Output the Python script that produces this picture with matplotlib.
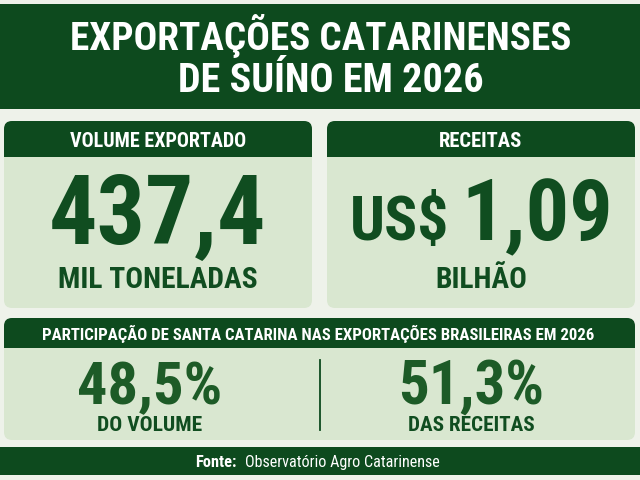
import matplotlib
matplotlib.use("Agg")
import matplotlib.pyplot as plt
from matplotlib.patches import FancyBboxPatch, Rectangle

# --- data ---
title_lines = ["EXPORTAÇÕES CATARINENSES", "DE SUÍNO EM 2026"]
card_titles = ["VOLUME EXPORTADO", "RECEITAS"]
card_prefix = ["", "US$"]
card_values = [437.4, 1.09]
card_decimals = [1, 2]
card_units = ["MIL TONELADAS", "BILHÃO"]
share_title = "PARTICIPAÇÃO DE SANTA CATARINA NAS EXPORTAÇÕES BRASILEIRAS EM 2026"
share_values = [48.5, 51.3]
share_labels = ["DO VOLUME", "DAS RECEITAS"]
source_label = "Fonte:"
source_name = "Observatório Agro Catarinense"

# --- colours ---
BG = "#eef2ea"
DARK = "#0d4a1e"
LIGHT = "#d9e7d0"
NUM = "#104d20"
PCT = "#1d5b27"
FONT = "Roboto Condensed"
CAP = 0.711  # cap height / em for Roboto Condensed


def br(v, d):
    # brazilian decimal comma
    return f"{v:.{d}f}".replace(".", ",")


def card(ax, x, y, w, h, head_h, r=8):
    ax.add_patch(FancyBboxPatch((x, y), w, h, boxstyle=f"round,pad=0,rounding_size={r}",
                                fc=LIGHT, ec="none", zorder=1))
    ax.add_patch(FancyBboxPatch((x, y), w, head_h, boxstyle=f"round,pad=0,rounding_size={r}",
                                fc=DARK, ec="none", zorder=2))
    ax.add_patch(Rectangle((x, y + head_h - r), w, r, fc=DARK, ec="none", zorder=2))


fig = plt.figure(figsize=(6.4, 4.8), dpi=100, facecolor=BG)
ax = fig.add_axes([0, 0, 1, 1])
ax.set_xlim(0, 640)
ax.set_ylim(480, 0)
ax.axis("off")
renderer = fig.canvas.get_renderer()


def fit_text(x, y, s, width, cap, ha="center", color="white", weight="bold",
             zorder=3, mix=0.5):
    # compromise between matching the reference width and its cap height (px)
    t = ax.text(x, y, s, ha=ha, va="baseline", color=color, fontsize=10,
                fontweight=weight, family=FONT, zorder=zorder)
    w = t.get_window_extent(renderer).width
    size_w = 10 * width / w
    size_h = cap / CAP * 0.72
    t.set_fontsize(mix * size_w + (1 - mix) * size_h)
    return t


# title band
ax.add_patch(Rectangle((0, 4), 640, 105, fc=DARK, ec="none"))
fit_text(321, 50, title_lines[0], 513, 26, mix=0.7)
fit_text(331, 92, title_lines[1], 312, 27, mix=0.7)

# two cards
card_x = [4, 327]
head_w = [181, 87]
val_w = [227, 150]
unit_w = [199, 91]
for i in range(2):
    x0 = card_x[i]
    card(ax, x0, 121, 308, 187, 36)
    cx = x0 + 154
    fit_text(cx, 147, card_titles[i], head_w[i], 14)
    val = br(card_values[i], card_decimals[i])
    if card_prefix[i]:
        fit_text(449, 240, card_prefix[i], 96, 45, ha="right", color=NUM)
        fit_text(461, 240, val, val_w[i], 62, ha="left", color=NUM)
    else:
        fit_text(cx, 244, val, val_w[i], 66, color=NUM)
    fit_text(cx, 288, card_units[i], unit_w[i], 21, color=NUM)

# share panel
card(ax, 4, 318, 631, 122, 30)
fit_text(318, 340, share_title, 549, 12, mix=0.6)
ax.plot([320, 320], [360, 430], color=DARK, lw=1.3, zorder=3)
for cx, v, lab, pw, lw in zip([150, 471], share_values, share_labels, [155, 158], [106, 126]):
    fit_text(cx, 404, br(v, 1) + "%", pw, 41, color=PCT, mix=0.4)
    fit_text(cx, 431, lab, lw, 15, color=NUM)

# footer
ax.add_patch(Rectangle((0, 447), 640, 28, fc=DARK, ec="none"))
fit_text(237, 467, source_label, 45, 10.5, ha="right", zorder=2)
fit_text(245, 467, source_name, 210, 10.5, ha="left", weight="normal", zorder=2)

fig.savefig("out.png", dpi=100, facecolor=BG)
